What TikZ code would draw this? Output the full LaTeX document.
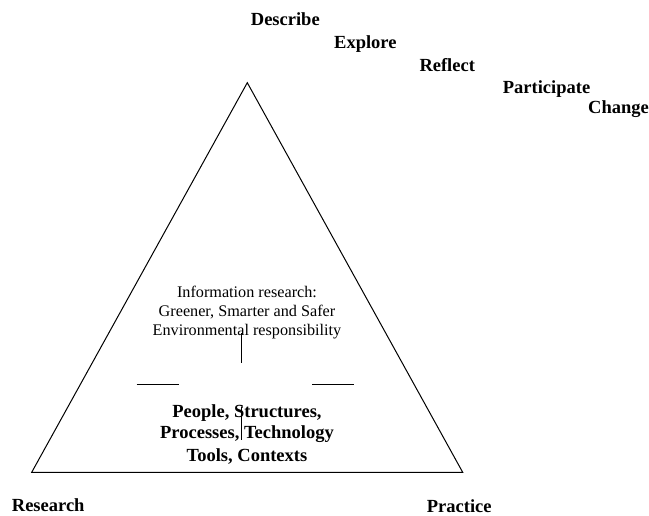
\documentclass[tikz,border=0pt]{standalone}
\usepackage{fontspec}
\setmainfont{Liberation Serif}
\begin{document}
\begin{tikzpicture}[x=1pt,y=-1pt,
  lbl/.style={font=\fontsize{18.5}{22}\selectfont\bfseries, inner sep=0pt, anchor=base west},
  mid/.style={font=\fontsize{16.2}{19.4}\selectfont, inner sep=0pt, anchor=base},
  bmid/.style={font=\fontsize{18.5}{22.3}\selectfont\bfseries, inner sep=0pt, anchor=base},
  edge/.style={line width=1pt, black},
  rule/.style={line width=0.9pt, black}]
\useasboundingbox (0,0) rectangle (649,515);
% triangle
\coordinate (apex) at (247.3,82.7);
\coordinate (bl) at (31.7,472.3);
\coordinate (br) at (462.7,472.3);
\draw[edge, line join=miter] (apex) -- (br) -- (bl) -- cycle;
% stair labels
\node[lbl] (describe) at (250.7,25.7) {Describe};
\node[lbl] (explore) at (334,48.3) {Explore};
\node[lbl] (reflect) at (419.3,71.7) {Reflect};
\node[lbl] (participate) at (502.7,93.3) {Participate};
\node[lbl] (change) at (588,113.3) {Change};
% corner labels
\node[lbl] (research) at (11.7,511) {Research};
\node[lbl] (practice) at (426.7,512) {Practice};
% inner text
\node[mid] (info1) at (247,297) {Information research:};
\node[mid] (info2) at (247,316.7) {Greener, Smarter and Safer};
\node[mid] (info3) at (247,335.7) {Environmental responsibility};
\node[bmid] (people1) at (247,417) {People, Structures,};
\node[bmid] (people2) at (247,438.5) {Processes, Technology};
\node[bmid] (people3) at (247,461.5) {Tools, Contexts};
% small rules
\coordinate (v1a) at (241.7,333);
\coordinate (v1b) at (241.7,362.7);
\coordinate (h1a) at (136.7,384);
\coordinate (h1b) at (178.7,384);
\coordinate (h2a) at (312,384);
\coordinate (h2b) at (353.7,384);
\coordinate (v2a) at (241.7,406.7);
\coordinate (v2b) at (241.7,440);
\draw[rule] (v1a) -- (v1b);
\draw[rule] (h1a) -- (h1b);
\draw[rule] (h2a) -- (h2b);
\draw[rule] (v2a) -- (v2b);
\end{tikzpicture}
\end{document}
